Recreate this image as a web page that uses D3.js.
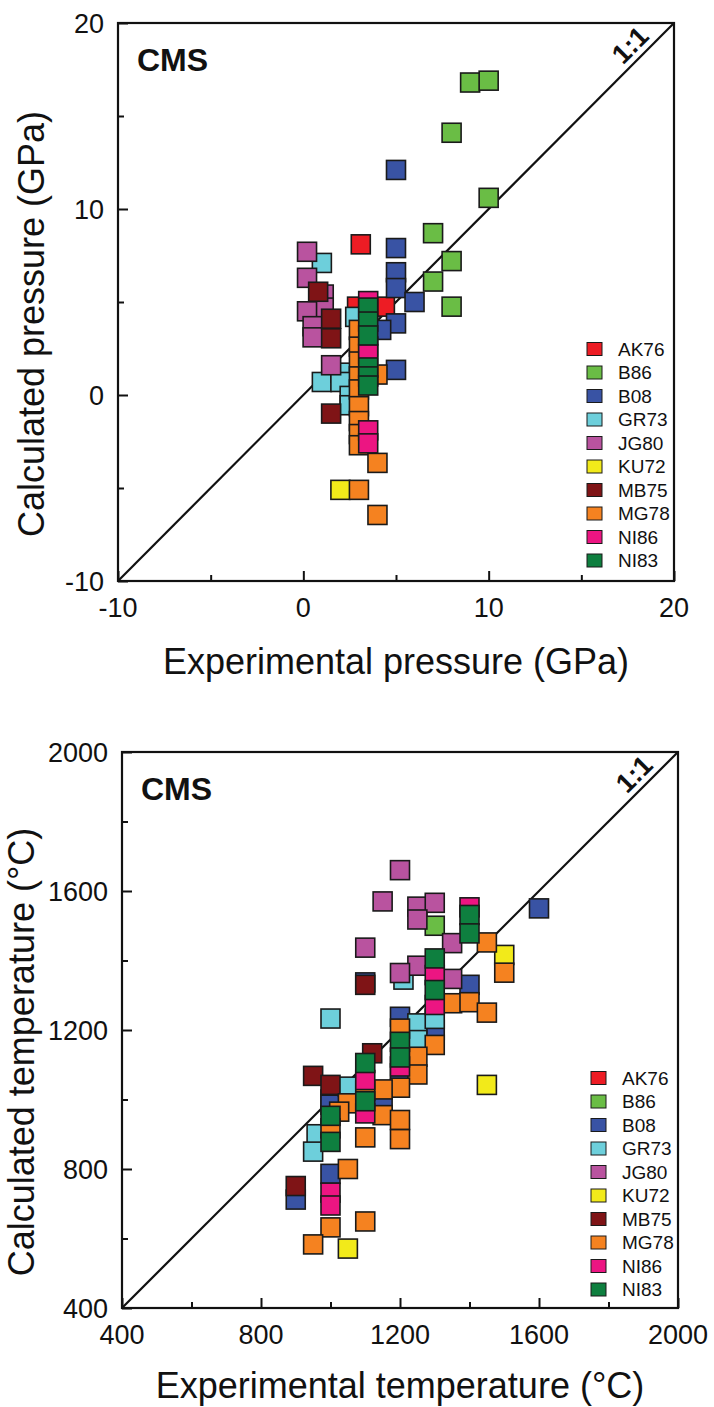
<!DOCTYPE html>
<html>
<head>
<meta charset="utf-8">
<script src="https://cdn.jsdelivr.net/npm/d3@7/dist/d3.min.js"></script>
<style>
  html, body { margin: 0; padding: 0; background: #fff; }
  svg { display: block; }
  text { font-family: "Liberation Sans", Arial, sans-serif; fill: #111; }
</style>
</head>
<body>
<svg id="chart" width="714" height="1407"></svg>
<script>
// ---------- shared series definitions ----------
const seriesNames = ["AK76", "B86", "B08", "GR73", "JG80", "KU72", "MB75", "MG78", "NI86", "NI83"];
const seriesColors = ["#ED1C24", "#6ABD45", "#3953A4", "#6DCFDB", "#B9539F", "#F2EA1A", "#7F1416", "#F58220", "#EC1582", "#0E7F3F"];

// ---------- pressure panel (GPa): [experimental, calculated] ----------
const pAK76 = [[3.1, 8.1], [2.9, 4.75], [4.4, 4.75]];
const pB86  = [[9.0, 16.8], [10.0, 16.9], [8.0, 14.1], [10.0, 10.6], [7.0, 8.7], [8.0, 7.2], [7.0, 6.1], [8.0, 4.75]];
const pB08  = [[5.0, 12.1], [5.0, 7.9], [5.0, 6.6], [5.0, 5.75], [6.0, 5.0], [5.0, 3.85], [4.2, 3.5], [5.0, 1.35]];
const pGR73 = [[1.0, 7.1], [2.8, 4.2], [1.0, 0.7], [2.0, 1.2], [2.0, 0.7], [2.5, -0.05], [2.5, -0.55]];
const pJG80 = [[0.2, 7.7], [0.2, 6.3], [1.1, 5.4], [1.1, 4.7], [0.2, 4.5], [0.5, 3.7], [0.5, 3.1], [1.5, 1.6]];
const pKU72 = [[2.0, -5.1]];
const pMB75 = [[0.8, 5.55], [1.5, 4.1], [1.5, 3.05], [1.5, -1.0]];
const pMG78 = [[3.0, 3.5], [3.0, 2.6], [3.0, 1.8], [3.0, 1.0], [3.0, 0.3], [3.0, -0.6], [3.0, -1.4], [3.0, -2.1], [3.0, -2.7],
               [4.0, 1.1], [4.0, -3.65], [3.0, -5.1], [4.0, -6.45]];
const pNI86 = [[3.5, 5.05], [3.5, 2.6], [3.5, 2.2], [3.5, -1.9], [3.5, -2.6]];
const pNI83 = [[3.5, 4.7], [3.5, 3.95], [3.5, 3.2], [3.5, 1.48], [3.5, 1.0], [3.5, 0.51]];
const pressureTicks = [-10, 0, 10, 20];
const pressureMinor = [-5, 5, 15];

// ---------- temperature panel (°C): [experimental, calculated] ----------
const tAK76 = [];
const tB86  = [[1300, 1500]];
const tB08  = [[1600, 1550], [1400, 1330], [1300, 1200], [1200, 1238], [1200, 1075], [1150, 994], [1100, 1337],
               [1000, 1000], [1000, 985], [1000, 786], [900, 712]];
const tGR73 = [[1000, 1233], [1250, 1219], [1250, 1171], [1300, 1232], [1210, 1345], [1050, 1037], [960, 900], [950, 850]];
const tJG80 = [[1200, 1660], [1150, 1570], [1250, 1555], [1300, 1566], [1250, 1518], [1100, 1437], [1350, 1450],
               [1250, 1385], [1200, 1364], [1350, 1347]];
const tKU72 = [[1500, 1416], [1450, 1042], [1050, 571]];
const tMB75 = [[1100, 1330], [1120, 1133], [950, 1068], [1000, 1042], [900, 751]];
const tMG78 = [[1450, 1452], [1500, 1365], [1350, 1277], [1400, 1280], [1450, 1250], [1200, 1204], [1300, 1157],
               [1250, 1123], [1250, 1072], [1200, 1034], [1150, 1029], [1150, 955], [1200, 941], [1200, 886],
               [1100, 891], [1100, 1025], [1050, 989], [1025, 965], [1000, 917], [1050, 800], [1000, 632], [950, 583], [1100, 649]];
const tNI86 = [[1400, 1553], [1300, 1358], [1300, 1272], [1200, 1095], [1100, 1056], [1100, 960], [1000, 732], [1000, 695]];
const tNI83 = [[1400, 1531], [1400, 1478], [1300, 1406], [1300, 1315], [1200, 1166], [1200, 1121], [1100, 1105],
               [1100, 995], [1000, 953], [1000, 878]];
const tempTicks = [400, 800, 1200, 1600, 2000];
const tempMinor = [600, 1000, 1400, 1800];

const svg = d3.select("#chart");

function panel(cfg) {
  const {left, right, top, bottom, domain, ticks, minor, data, xTitle, yTitle, yTitleX, xTitleDy, tickFmt} = cfg;
  const x = d3.scaleLinear().domain(domain).range([left, right]);
  const y = d3.scaleLinear().domain(domain).range([bottom, top]);
  const g = svg.append("g");

  // inward ticks on bottom and left
  const bAxis = d3.axisTop(x).tickValues(ticks).tickSize(10).tickFormat("");
  const bMinor = d3.axisTop(x).tickValues(minor).tickSize(6).tickFormat("");
  const lAxis = d3.axisRight(y).tickValues(ticks).tickSize(10).tickFormat("");
  const lMinor = d3.axisRight(y).tickValues(minor).tickSize(6).tickFormat("");
  [[bAxis, `translate(0,${bottom})`], [bMinor, `translate(0,${bottom})`],
   [lAxis, `translate(${left},0)`], [lMinor, `translate(${left},0)`]].forEach(([ax, tr]) => {
    const a = g.append("g").attr("transform", tr).call(ax);
    a.select(".domain").remove();
    a.selectAll("line").attr("stroke", "#111").attr("stroke-width", 2);
  });

  // tick labels
  g.selectAll(".xl").data(ticks).join("text")
    .attr("x", d => x(d)).attr("y", bottom + 36)
    .attr("text-anchor", "middle").attr("font-size", 27).text(tickFmt);
  g.selectAll(".yl").data(ticks).join("text")
    .attr("x", left - 14).attr("y", d => y(d)).attr("dy", "0.36em")
    .attr("text-anchor", "end").attr("font-size", 27).text(tickFmt);

  // 1:1 line
  g.append("line")
    .attr("x1", x(domain[0])).attr("y1", y(domain[0]))
    .attr("x2", x(domain[1])).attr("y2", y(domain[1]))
    .attr("stroke", "#111").attr("stroke-width", 2.2);

  // points
  data.forEach((pts, i) => {
    g.append("g").selectAll("rect").data(pts).join("rect")
      .attr("x", d => x(d[0]) - 9.5).attr("y", d => y(d[1]) - 9.5)
      .attr("width", 19).attr("height", 19)
      .attr("fill", seriesColors[i]).attr("stroke", "#1a1a1a").attr("stroke-width", 1.6);
  });

  // frame
  g.append("rect").attr("x", left).attr("y", top)
    .attr("width", right - left).attr("height", bottom - top)
    .attr("fill", "none").attr("stroke", "#111").attr("stroke-width", 2.2);

  // CMS label
  g.append("text").attr("x", left + 19).attr("y", top + 48)
    .attr("font-size", 32).attr("font-weight", "bold").text("CMS");

  // 1:1 label
  g.append("text")
    .attr("transform", `translate(${right - 44},${top + 22}) rotate(-45)`)
    .attr("text-anchor", "middle").attr("dy", "0.35em")
    .attr("font-size", 27).attr("font-weight", "bold").text("1:1");

  // legend
  const lg = g.append("g");
  seriesNames.forEach((name, i) => {
    const ly = top + 326 + i * 23.5;
    lg.append("rect").attr("x", left + 469).attr("y", ly - 6.5)
      .attr("width", 15).attr("height", 13)
      .attr("fill", seriesColors[i]).attr("stroke", "#1a1a1a").attr("stroke-width", 1);
    lg.append("text").attr("x", left + 500).attr("y", ly).attr("dy", "0.36em")
      .attr("font-size", 19).text(name);
  });

  // axis titles
  g.append("text").attr("x", (left + right) / 2).attr("y", bottom + xTitleDy)
    .attr("text-anchor", "middle").attr("font-size", 36).text(xTitle);
  g.append("text")
    .attr("transform", `translate(${yTitleX},${(top + bottom) / 2 + 22}) rotate(-90)`)
    .attr("text-anchor", "middle").attr("font-size", 36).text(yTitle);
}

panel({
  left: 118, right: 674, top: 23, bottom: 581,
  domain: [-10, 20], ticks: pressureTicks, minor: pressureMinor,
  data: [pAK76, pB86, pB08, pGR73, pJG80, pKU72, pMB75, pMG78, pNI86, pNI83],
  xTitle: "Experimental pressure (GPa)", yTitle: "Calculated pressure (GPa)", yTitleX: 44, xTitleDy: 93,
  tickFmt: d => String(d)
});

panel({
  left: 122, right: 678, top: 752, bottom: 1308,
  domain: [400, 2000], ticks: tempTicks, minor: tempMinor,
  data: [tAK76, tB86, tB08, tGR73, tJG80, tKU72, tMB75, tMG78, tNI86, tNI83],
  xTitle: "Experimental temperature (°C)", yTitle: "Calculated temperature (°C)", yTitleX: 34, xTitleDy: 90,
  tickFmt: d => String(d)
});
</script>
</body>
</html>
